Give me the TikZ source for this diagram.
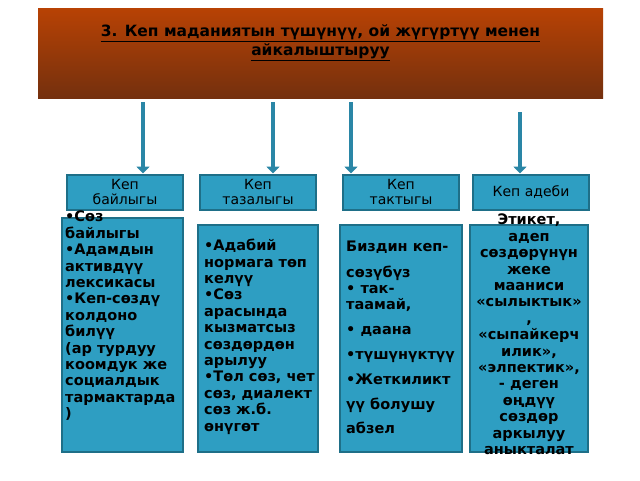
\documentclass[tikz,border=0pt]{standalone}
\usepackage{fontspec}
\setmainfont{DejaVu Sans}
\usetikzlibrary{arrows.meta}
\definecolor{tealfill}{HTML}{2E9EC2}
\definecolor{tealedge}{HTML}{1E6F88}
\definecolor{arrteal}{HTML}{2A86A6}
\definecolor{hdrtop}{HTML}{B84204}
\definecolor{hdrbot}{HTML}{74300E}
\begin{document}
\begin{tikzpicture}[x=1pt,y=-1pt]
\tikzstyle{every node}+=[inner sep=0pt]
\tikzstyle{lbl}=[draw=tealedge,line width=2pt,fill=tealfill,minimum width=116pt,minimum height=35pt,align=center,font=\fontsize{14}{15}\selectfont]
\tikzstyle{body}=[font=\bfseries\fontsize{14.5}{16.4}\selectfont]
\tikzstyle{arr}=[draw=arrteal,line width=4pt,-{Triangle[length=7pt,width=13pt]}]
\useasboundingbox (0,0) rectangle (640,480);
\fill[white] (0,0) rectangle (640,480);
% header
\shade[top color=hdrtop,bottom color=hdrbot] (38,8) rectangle (603,98);
\node (title) at (320.5,43) [align=center,font=\bfseries\fontsize{15.5}{19}\selectfont] {\underline{3. Кеп маданиятын түшүнүү, ой жүгүртүү менен}\\\underline{айкалыштыруу}};
% labels
\node[lbl] (bay) at (125,192) {Кеп\\байлыгы};
\node[lbl] (taz) at (258,192) {Кеп\\тазалыгы};
\node[lbl] (tak) at (401,192) {Кеп\\тактыгы};
\node[lbl] (ade) at (531,192) {Кеп адеби};
% arrows
\coordinate (s1) at (143,102);
\coordinate (s2) at (273,102);
\coordinate (s3) at (351,102);
\coordinate (s4) at (520,112);
\draw[arr] (s1) -- (s1 |- bay.north);
\draw[arr] (s2) -- (s2 |- taz.north);
\draw[arr] (s3) -- (s3 |- tak.north);
\draw[arr] (s4) -- (s4 |- ade.north);
% content boxes
\draw[draw=tealedge,line width=2pt,fill=tealfill] (62,218) rectangle (183,452);
\draw[draw=tealedge,line width=2pt,fill=tealfill] (198,225) rectangle (318,452);
\draw[draw=tealedge,line width=2pt,fill=tealfill] (340,225) rectangle (462,452);
\draw[draw=tealedge,line width=2pt,fill=tealfill] (470,225) rectangle (588,452);
\node[body,anchor=north west,align=left] (t1) at (65,211) {•Сөз\\байлыгы\\•Адамдын\\активдүү\\лексикасы\\•Кеп-сөздү\\колдоно\\билүү\\(ар турдуу\\коомдук же\\социалдык\\тармактарда\\)};
\node[body,anchor=north west,align=left] (t2) at (204,239) {•Адабий\\нормага төп\\келүү\\•Сөз\\арасында\\кызматсыз\\сөздөрдөн\\арылуу\\•Төл сөз, чет\\сөз, диалект\\сөз ж.б.\\өнүгөт};
\node[body,anchor=north west,align=left] (t3) at (346,241) {Биздин кеп-\\[9pt]сөзүбүз\\• так-\\таамай,\\[8pt]• даана\\[9pt]•түшүнүктүү\\[8pt]•Жеткиликт\\[9pt]үү болушу\\[8pt]абзел};
\node[body,anchor=north,align=center] (t4) at (529,214) {Этикет,\\адеп\\сөздөрүнүн\\жеке\\мааниси\\«сылыктык»\\,\\«сыпайкерч\\илик»,\\«элпектик»,\\- деген\\өңдүү\\сөздөр\\аркылуу\\аныкталат};
\end{tikzpicture}
\end{document}
